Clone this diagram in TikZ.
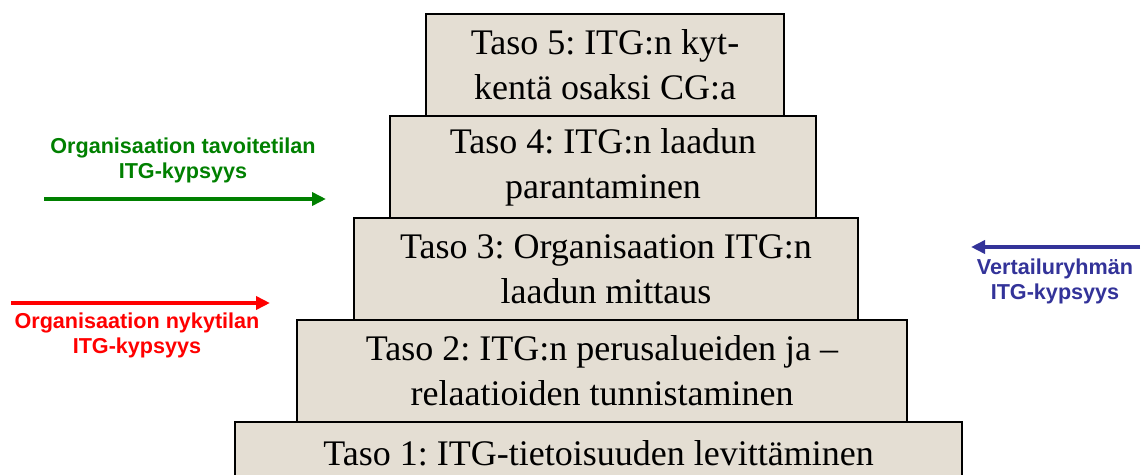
\documentclass[tikz,border=0pt]{standalone}
\usepackage{fontspec}
\setmainfont{Liberation Serif}
\setsansfont{Liberation Sans}
\usetikzlibrary{arrows.meta,positioning}
\definecolor{stone}{RGB}{228,222,211}
\definecolor{goalgreen}{RGB}{0,128,0}
\definecolor{nowred}{RGB}{255,0,0}
\definecolor{peerblue}{RGB}{51,51,153}
\tikzset{
  level/.style={draw,line width=1.5pt,fill=stone,align=center,inner sep=0pt,outer sep=0pt,minimum height=102pt,
    font=\frenchspacing\fontsize{36}{45}\selectfont},
  side/.style={align=center,inner sep=0pt,font=\sffamily\bfseries\fontsize{21.6}{25}\selectfont},
  farr/.style={-{Triangle[length=14pt,width=13pt]},line width=4pt}
}

\begin{document}
\begin{tikzpicture}[x=1pt,y=-1pt,node distance=0pt]
\clip (0,0) rectangle (1143,474);
% pyramid, bottom up
\node[level,minimum width=727pt,minimum height=62pt,anchor=north] (lvlone) at (598.5,422) {Taso 1: ITG-tietoisuuden levittäminen};
\node[level,minimum width=610pt,above=of lvlone,xshift=3.5pt] (lvltwo) {Taso 2: ITG:n perusalueiden ja --\\relaatioiden tunnistaminen};
\node[level,minimum width=504pt,above=of lvltwo,xshift=4pt] (lvlthree) {Taso 3: Organisaation ITG:n\\laadun mittaus};
\node[level,minimum width=426pt,above=of lvlthree,xshift=-3pt] (lvlfour) {Taso 4: ITG:n laadun\\parantaminen};
\node[level,minimum width=358pt,above=of lvlfour,xshift=2pt] (lvlfive) {Taso 5: ITG:n kyt-\\kentä osaksi CG:a};
% maturity markers
\coordinate (goal-s) at (44,199);
\coordinate (goal-e) at (326,199);
\node[side,text=goalgreen] (goallbl) at (183,160) {Organisaation tavoitetilan\\ITG-kypsyys};
\draw[farr,goalgreen] (goal-s) -- (goal-e);
\coordinate (now-s) at (11,303);
\coordinate (now-e) at (270,303);
\node[side,text=nowred] (nowlbl) at (137,335) {Organisaation nykytilan\\ITG-kypsyys};
\draw[farr,nowred] (now-s) -- (now-e);
\coordinate (peer-s) at (1140,247);
\coordinate (peer-e) at (971,247);
\node[side,text=peerblue] (peerlbl) at (1055,281) {Vertailuryhmän\\ITG-kypsyys};
\draw[farr,peerblue] (peer-s) -- (peer-e);
\end{tikzpicture}
\end{document}
